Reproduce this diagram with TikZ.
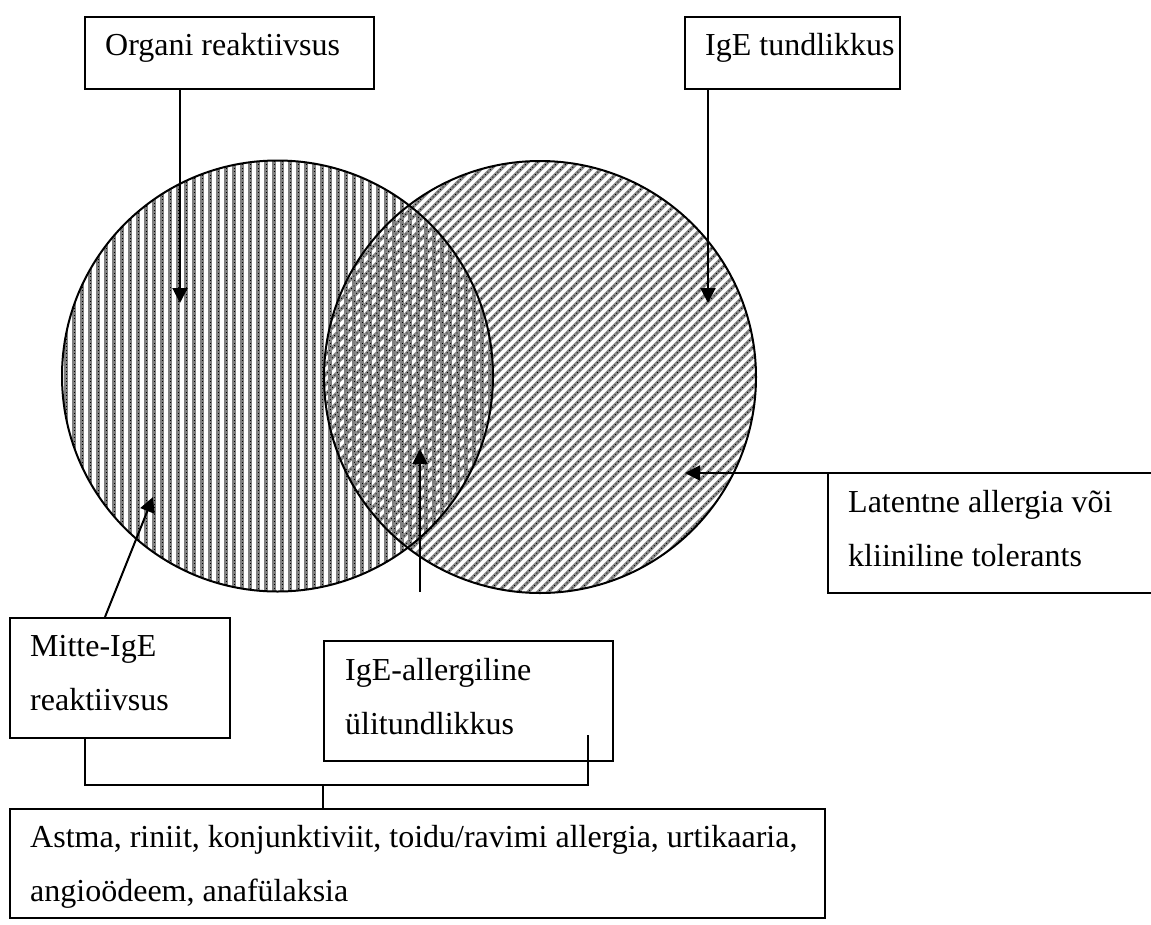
\documentclass[tikz,border=0pt]{standalone}
\usepackage{fontspec}
\setmainfont{Liberation Serif}
\usetikzlibrary{arrows.meta}
\begin{document}
\begin{tikzpicture}[x=1pt,y=-1pt,
  box/.style={draw,line width=2pt,rectangle,inner sep=0pt,anchor=north west},
  openbox/.style={rectangle,inner sep=0pt,anchor=north west},
  lbl/.style={anchor=base west,inner sep=0pt,font=\fontsize{32pt}{54pt}\selectfont},
  arr/.style={line width=2pt,-{Triangle[width=15pt,length=15pt]}},
  con/.style={line width=2pt},
  ring/.style={line width=2pt},
  vstripe/.style={line width=3.8pt,black!50},
  vdots/.style={line width=1pt,black,dash pattern=on 1pt off 2.5pt},
  dstripe/.style={line width=3.3pt,black!45},
  ddots/.style={line width=1pt,black,dash pattern=on 1pt off 2.5pt}]
\useasboundingbox[fill=white] (0,0) rectangle (1151,924);

% circles
\coordinate (cl) at (277.5,376);
\coordinate (cr) at (540,377);
\begin{scope}
  \clip (cl) circle[radius=215.5pt];
  \foreach \x in {58,66,...,500} {
    \draw[vstripe] (\x,150) -- (\x,600);
    \draw[vdots] (\x,150) -- (\x,600);
  }
\end{scope}
\begin{scope}
  \clip (cr) circle[radius=216pt];
  \foreach \c in {480,490,...,1360} {
    \draw[dstripe] ({\c-100},100) -- ({\c-660},660);
    \draw[ddots] ({\c-100},100) -- ({\c-660},660);
  }
\end{scope}
\draw[ring] (cl) circle[radius=215.5pt];
\draw[ring] (cr) circle[radius=216pt];

% boxes
\node[box,minimum width=289pt,minimum height=72pt] (org) at (84,16) {};
\node[box,minimum width=215pt,minimum height=72pt] (ige) at (684,16) {};
\node[openbox,minimum width=340pt,minimum height=120pt] (lat) at (828,473) {};
\draw[con] (lat.north west) -- (lat.south west) -- (lat.south east);
\node[box,minimum width=220pt,minimum height=120pt] (mit) at (9,617) {};
\node[box,minimum width=289pt,minimum height=120pt] (all) at (323,640) {};
\node[box,minimum width=815pt,minimum height=109pt] (bot) at (9,808) {};

% labels
\node[lbl] (torg) at (105,55) {Organi reaktiivsus};
\node[lbl] (tige) at (705,55) {IgE tundlikkus};
\node[lbl] (tlat1) at (848,512) {Latentne allergia või};
\node[lbl] (tlat2) at (848,566) {kliiniline tolerants};
\node[lbl] (tmit1) at (30,656) {Mitte-IgE};
\node[lbl] (tmit2) at (30,710) {reaktiivsus};
\node[lbl] (tall1) at (345,680) {IgE-allergiline};
\node[lbl] (tall2) at (345,734) {ülitundlikkus};
\node[lbl] (tbot1) at (30,847) {Astma, riniit, konjunktiviit, toidu/ravimi allergia, urtikaaria,};
\node[lbl] (tbot2) at (30,901) {angioödeem, anafülaksia};

% arrows
\coordinate (a1) at (180,303);
\draw[arr] (a1 |- org.south) -- (a1);
\coordinate (a2) at (708,303);
\draw[arr] (a2 |- ige.south) -- (a2);
\coordinate (a3) at (685,473);
\draw[arr] (lat.north east) -- (a3);
\coordinate (a4s) at (420,592);
\coordinate (a4) at (420,449);
\draw[arr] (a4s) -- (a4);
\coordinate (a5s) at (105,0);
\coordinate (a5) at (153,497);
\draw[arr] (a5s |- mit.north) -- (a5);

% connectors
\coordinate (j1) at (85,785);
\coordinate (j2) at (588,785);
\coordinate (j3) at (588,735);
\coordinate (j4) at (323,785);
\draw[con] (j1 |- mit.south) -- (j1) -- (j2) -- (j3);
\draw[con] (j4) -- (j4 |- bot.north);
\end{tikzpicture}
\end{document}
